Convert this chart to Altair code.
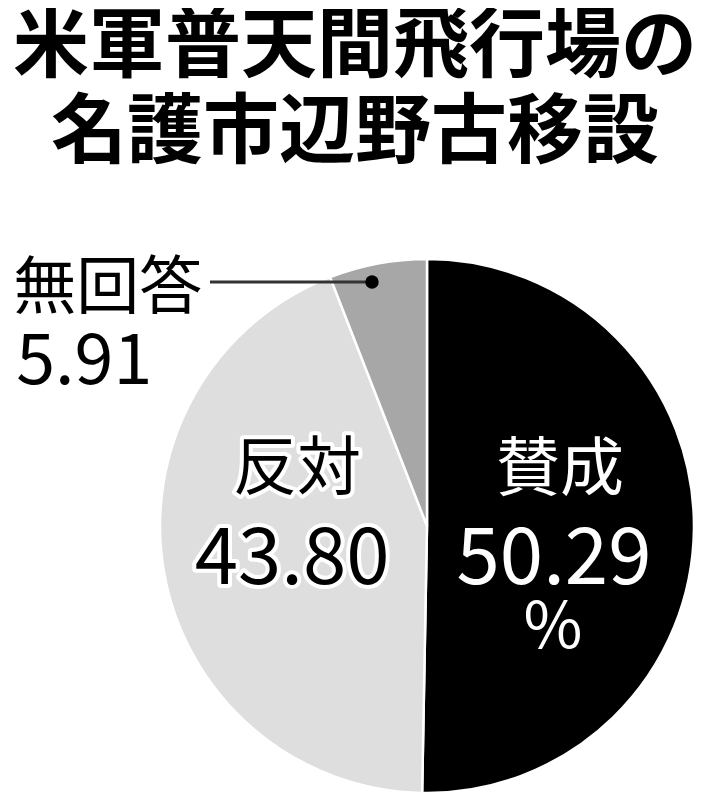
import altair as alt
import pandas as pd

title_lines = ["米軍普天間飛行場の", "名護市辺野古移設"]
categories = ["賛成", "反対", "無回答"]
values = [50.29, 43.80, 5.91]
value_labels = ["50.29", "43.80", "5.91"]
colors = ["#000000", "#dedede", "#a7a7a7"]
unit = "%"

df = pd.DataFrame({
    "cat": categories,
    "value": values,
    "label": value_labels,
    "order": list(range(len(categories))),
})

FONT = "Noto Sans CJK JP"
CX, CY, R = 419, 518, 267
theta_scale = alt.Scale(domain=[0, 100])

base = alt.Chart(df).transform_stack(
    stack="value", groupby=[], as_=["v0", "v1"],
    sort=[alt.SortField("order", order="ascending")],
).transform_calculate(mid="(datum.v0 + datum.v1) / 2")

pie = base.mark_arc(radius=R, stroke="white", strokeWidth=2.5).encode(
    theta=alt.Theta("v0:Q", scale=theta_scale),
    theta2="v1:Q",
    x=alt.value(CX),
    y=alt.value(CY),
    color=alt.Color("cat:N", scale=alt.Scale(domain=categories, range=colors), legend=None),
)


def txt(cat, r, dx, dy, size, color, field=None, const=None, halo=None,
        align="center", weight="normal"):
    enc = dict(theta=alt.Theta("mid:Q", scale=theta_scale), x=alt.value(CX), y=alt.value(CY))
    mk = dict(radius=r, dx=dx, dy=dy, fontSize=size, font=FONT, align=align,
              baseline="middle", fontWeight=weight)
    if const is not None:
        mk["text"] = const
    else:
        enc["text"] = alt.Text(field + ":N")
    b = base.transform_filter(alt.datum.cat == cat)
    out = []
    if halo:
        out.append(b.mark_text(**mk, color=halo, stroke=halo, strokeWidth=8,
                               strokeJoin="round").encode(**enc))
    out.append(b.mark_text(**mk, color=color).encode(**enc))
    return out


layers = [pie]
# 賛成
layers += txt("賛成", 126, 7, -56, 64, "white", field="cat")
layers += txt("賛成", 126, 1, 34, 78, "white", field="label")
layers += txt("賛成", 126, 0, 102, 64, "white", const=unit)
# 反対
layers += txt("反対", 135, 3, -80, 64, "black", field="cat", halo="white")
layers += txt("反対", 135, -2, 11, 78, "black", field="label", halo="white")
# 無回答
layers += txt("無回答", 248, -368, 7, 63, "black", field="cat", align="left")
layers += txt("無回答", 248, -365, 81, 70, "black", field="label", align="left")

leader = alt.Chart(df.head(1)).mark_rule(color="#333333", strokeWidth=3).encode(
    x=alt.value(202), x2=alt.value(364), y=alt.value(274)
)
dot = alt.Chart(df.head(1)).mark_circle(color="black", opacity=1, size=180).encode(
    x=alt.value(364), y=alt.value(274)
)
layers += [leader, dot]

title_df = pd.DataFrame({"t": title_lines})
t1 = alt.Chart(title_df).transform_filter(alt.datum.t == title_lines[0]).mark_text(
    font=FONT, fontSize=76, fontWeight="bold", align="center", baseline="middle", color="black"
).encode(text="t:N", x=alt.value(347), y=alt.value(40))
t2 = alt.Chart(title_df).transform_filter(alt.datum.t == title_lines[1]).mark_text(
    font=FONT, fontSize=76, fontWeight="bold", align="center", baseline="middle", color="black"
).encode(text="t:N", x=alt.value(347), y=alt.value(126))
layers += [t1, t2]

chart = alt.layer(*layers).properties(
    width=693, height=784, padding=0,
    autosize=alt.AutoSizeParams(type="none"),
).configure_view(strokeOpacity=0)

chart.save("out.html", embed_options={"renderer": "svg", "actions": False})
